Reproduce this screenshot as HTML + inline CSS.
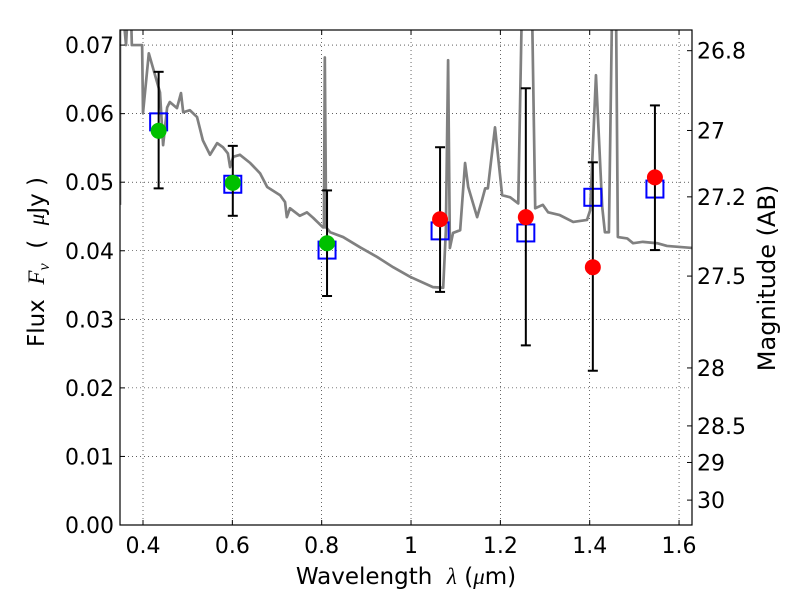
<!DOCTYPE html>
<html><head><meta charset="utf-8"><style>
body{margin:0;background:#fff}
svg text{font-family:"DejaVu Sans","Liberation Sans",sans-serif;fill:#000}
</style></head><body>
<svg id="chart" width="800" height="600" xmlns="http://www.w3.org/2000/svg">
<rect width="800" height="600" fill="#fff"/>
<g id="grid"></g>
<g id="plot"></g>
<g id="axes"></g>
<text x="406" y="584" font-size="23" text-anchor="middle" xml:space="preserve">Wavelength  <tspan font-style="italic" font-family="Liberation Serif">λ</tspan> (<tspan font-style="italic" font-family="Liberation Serif">μ</tspan>m)</text>
<text transform="translate(44,262) rotate(-90)" font-size="23" text-anchor="middle" xml:space="preserve">Flux  <tspan font-style="italic" font-family="Liberation Serif">F<tspan font-size="16" dy="5">ν</tspan></tspan><tspan dy="-5">  (  </tspan><tspan font-style="italic" font-family="Liberation Serif">μ</tspan>Jy )</text>
<text transform="translate(775,278) rotate(-90)" font-size="24" text-anchor="middle">Magnitude (AB)</text>
</svg>
<script>
const specWave=[0.3485,0.3485,0.355,0.362,0.366,0.373,0.375,0.398,0.400,0.413,0.438,0.445,0.454,0.460,0.476,0.485,0.490,0.505,0.521,0.534,0.550,0.566,0.579,0.590,0.595,0.602,0.617,0.640,0.662,0.678,0.707,0.718,0.722,0.729,0.751,0.767,0.781,0.803,0.805,0.807,0.810,0.819,0.848,0.886,0.924,0.960,0.998,1.049,1.072,1.078,1.083,1.087,1.094,1.110,1.121,1.128,1.148,1.159,1.166,1.172,1.188,1.204,1.222,1.240,1.248,1.271,1.278,1.295,1.307,1.333,1.363,1.394,1.401,1.414,1.428,1.434,1.443,1.450,1.459,1.463,1.484,1.497,1.519,1.551,1.573,1.631];
const specFlux=[0.0467,0.075,0.075,0.070,0.075,0.075,0.070,0.070,0.0601,0.0688,0.0631,0.0554,0.0609,0.0617,0.0608,0.0630,0.0602,0.0605,0.0595,0.0561,0.0540,0.0557,0.0551,0.0542,0.0522,0.0537,0.0540,0.0528,0.0513,0.0493,0.0481,0.0471,0.0449,0.0462,0.0451,0.0456,0.0448,0.0434,0.0434,0.0682,0.0434,0.0427,0.0420,0.0405,0.0391,0.0376,0.0362,0.0347,0.0346,0.043,0.0678,0.0404,0.0426,0.0430,0.0528,0.0493,0.0449,0.0474,0.0491,0.0491,0.0580,0.0481,0.0478,0.0469,0.075,0.075,0.0462,0.0467,0.0456,0.0452,0.0442,0.0445,0.0459,0.0656,0.0464,0.0427,0.0427,0.075,0.075,0.0420,0.0418,0.0411,0.0413,0.0411,0.0407,0.0404];
const obsWave=[0.435,0.601,0.812,1.065,1.257,1.407,1.546];
const obsFlux=[0.0575,0.0499,0.0411,0.0446,0.0449,0.0376,0.0507];
const obsColor=['#00c000','#00c000','#00c000','#ff0000','#ff0000','#ff0000','#ff0000'];
const errHigh=[0.0661,0.0553,0.0488,0.0551,0.0637,0.0529,0.0612];
const errLow=[0.0491,0.0451,0.0334,0.0340,0.0262,0.0225,0.0401];
const modelFlux=[0.0588,0.0497,0.0401,0.0429,0.0426,0.0478,0.0490];
const xTicks=[0.4,0.6,0.8,1.0,1.2,1.4,1.6];
const xTickLabels=['0.4','0.6','0.8','1','1.2','1.4','1.6'];
const yTicks=[0,0.01,0.02,0.03,0.04,0.05,0.06,0.07];
const yTickLabels=['0.00','0.01','0.02','0.03','0.04','0.05','0.06','0.07'];
const magTicks=[26.8,27,27.2,27.5,28,28.5,29,30];
const magTickLabels=['26.8','27','27.2','27.5','28','28.5','29','30'];

const L=120,R=692,T=30,B=525,X0=0.3485,X1=1.629,Y0=0,Y1=0.0722;
const xs=v=>L+(v-X0)/(X1-X0)*(R-L);
const ys=v=>B-(v-Y0)/(Y1-Y0)*(B-T);
const magToFlux=m=>Math.pow(10,(23.9-m)/2.5);
const NS='http://www.w3.org/2000/svg';
function mk(tag,attrs,parent){const e=document.createElementNS(NS,tag);for(const k in attrs)e.setAttribute(k,attrs[k]);parent.appendChild(e);return e;}
const grid=document.getElementById('grid'),plot=document.getElementById('plot'),axes=document.getElementById('axes');
const defs=mk('defs',{},plot);
const cp=mk('clipPath',{id:'clip'},defs);mk('rect',{x:L,y:T,width:R-L,height:B-T},cp);

xTicks.forEach((v,i)=>{
  const g=mk('line',{x1:xs(v),x2:xs(v),y1:T,y2:B,stroke:'#000','stroke-width':0.6,'stroke-dasharray':'1,3'},grid);
  
  
  const t=mk('line',{x1:xs(v),x2:xs(v),y1:B,y2:B-5,stroke:'#000'},axes);
  
  
  const t2=mk('line',{x1:xs(v),x2:xs(v),y1:T,y2:T+5,stroke:'#000'},axes);
  
  
  const lb=mk('text',{x:xs(v),y:B+28,'font-size':22,'text-anchor':'middle'},axes);lb.textContent=xTickLabels[i];
  
  
});
yTicks.forEach((v,i)=>{
  const g=mk('line',{x1:L,x2:R,y1:ys(v),y2:ys(v),stroke:'#000','stroke-width':0.6,'stroke-dasharray':'1,3'},grid);
  
  
  const t=mk('line',{x1:L,x2:L+5,y1:ys(v),y2:ys(v),stroke:'#000'},axes);
  
  
  const lb=mk('text',{x:L-6,y:ys(v)+8,'font-size':22,'text-anchor':'end'},axes);lb.textContent=yTickLabels[i];
  
  
});
magTicks.forEach((m,i)=>{
  const y=ys(magToFlux(m));
  const t=mk('line',{x1:R-5,x2:R,y1:y,y2:y,stroke:'#000'},axes);
  
  
  const lb=mk('text',{x:R+5,y:y+8,'font-size':22},axes);lb.textContent=magTickLabels[i];
  
  
});
const border=mk('rect',{x:L,y:T,width:R-L,height:B-T,fill:'none',stroke:'#000','stroke-width':1.2},axes);



const cg=mk('g',{'clip-path':'url(#clip)'},plot);
const sp=mk('polyline',{points:specWave.map((w,i)=>xs(w)+','+ys(specFlux[i])).join(' '),fill:'none',stroke:'#808080','stroke-width':2.7,'stroke-linejoin':'round'},cg);



obsWave.forEach((w,i)=>{
  const x=xs(w);
  const sq=mk('rect',{x:x-8.5,y:ys(modelFlux[i])-8.5,width:17,height:17,fill:'none',stroke:'#0000ff','stroke-width':2},cg);
  
  
  const eg=mk('g',{stroke:'#000','stroke-width':2},cg);
  
  
  mk('line',{x1:x,x2:x,y1:ys(errHigh[i]),y2:ys(errLow[i])},eg);
  mk('line',{x1:x-5,x2:x+5,y1:ys(errHigh[i]),y2:ys(errHigh[i])},eg);
  mk('line',{x1:x-5,x2:x+5,y1:ys(errLow[i]),y2:ys(errLow[i])},eg);
  const c=mk('circle',{cx:x,cy:ys(obsFlux[i]),r:8,fill:obsColor[i]},cg);
  
  
});
</script>
</body></html>
